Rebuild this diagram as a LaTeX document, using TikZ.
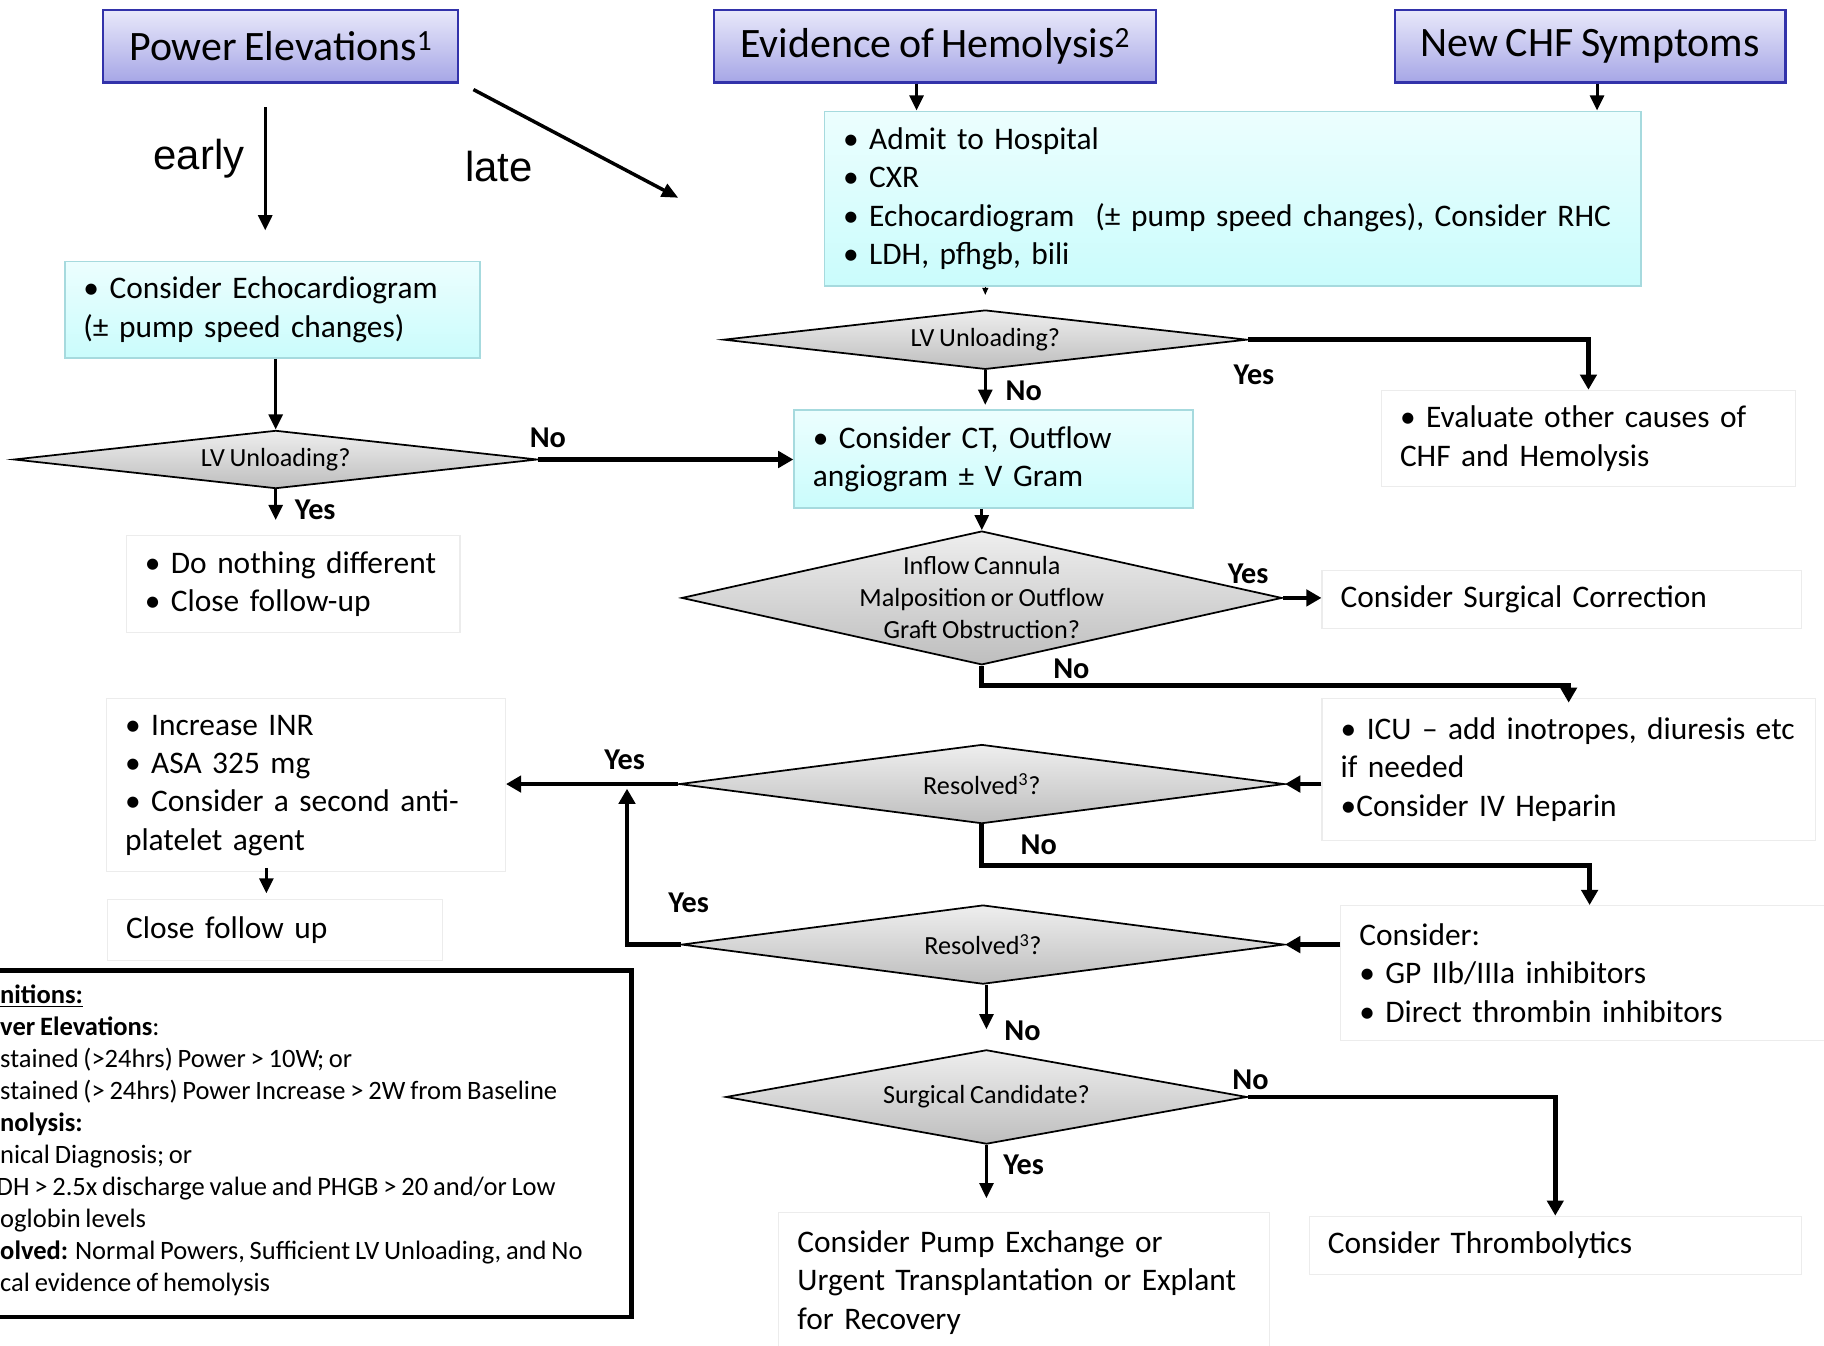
\documentclass[tikz,border=0pt]{standalone}
\usepackage{fontspec}
\setmainfont{Carlito}[WordSpace=0.8]
\newfontfamily\arialf{Liberation Sans}
\usetikzlibrary{shapes.geometric,arrows.meta,calc}
\definecolor{hdrT}{RGB}{232,232,250}
\definecolor{hdrBot}{RGB}{166,166,230}
\definecolor{hdrB}{RGB}{50,50,170}
\definecolor{cyT}{RGB}{236,254,254}
\definecolor{cyB}{RGB}{202,252,252}
\definecolor{cyD}{RGB}{166,218,222}
\definecolor{wbD}{RGB}{236,236,236}
\definecolor{diT}{RGB}{238,238,238}
\definecolor{diB}{RGB}{190,190,190}
\begin{document}
\begin{tikzpicture}[x=1pt,y=-1pt,
  hdr/.style={draw=hdrB, line width=1.8pt, top color=hdrT, bottom color=hdrBot,
    minimum height=62pt, inner sep=0pt, anchor=north west,
    font=\fontsize{36}{40}\selectfont},
  bx/.style={anchor=north west, inner xsep=16pt, inner ysep=0pt, align=left,
    font=\fontsize{27}{33}\selectfont},
  cy/.style={bx, draw=cyD, line width=1.5pt, top color=cyT, bottom color=cyB},
  wb/.style={bx, draw=wbD, line width=1pt, fill=white},
  dia/.style={diamond, draw=black, line width=1.5pt, top color=diT, bottom color=diB,
    inner sep=0pt},
  dtext/.style={font=\fontsize{22.5}{27.5}\selectfont, align=center},
  yn/.style={font=\bfseries\fontsize{26}{30}\selectfont, inner sep=0pt},
  thk/.style={line width=4pt, -{Triangle[length=13pt,width=14pt]}},
  thn/.style={line width=2.5pt, -{Triangle[length=13pt,width=12pt]}},
  df/.style={anchor=base west, inner sep=0pt, font=\fontsize{22.8}{27}\selectfont}
]
\useasboundingbox (0,0) rectangle (1568,1157);
\fill[white] (0,0) rectangle (1568,1157);

% header boxes
\node[hdr, minimum width=305pt] (pe) at (88,8) {Power Elevations\textsuperscript{1}};
\node[hdr, minimum width=380pt] (eh) at (613,8) {Evidence of Hemolysis\textsuperscript{2}};
\node[hdr, minimum width=336pt] (chf) at (1198,8) {New CHF Symptoms};

% early / late
\coordinate (ea1) at (228,92);
\coordinate (ea2) at (228,198);
\coordinate (la1) at (407,77);
\coordinate (la2) at (583,170);
\draw[thn] (ea1) -- (ea2);
\draw[line width=3pt, -{Triangle[length=14pt,width=12pt]}] (la1) -- (la2);
\node[font=\arialf\fontsize{36}{40}\selectfont, inner sep=0pt] (early) at (171,136) {early};
\node[font=\arialf\fontsize{36}{40}\selectfont, inner sep=0pt] (late) at (429,143) {late};

% boxes
\node[cy, minimum width=702pt, minimum height=150pt, text width=670pt] (adm) at (708,95)
  {• Admit to Hospital\\ • CXR\\ • Echocardiogram\ \ (± pump speed changes), Consider RHC\\ • LDH, pfhgb, bili};
\node[cy, minimum width=357pt, minimum height=83pt, text width=325pt] (echo) at (55,224)
  {• Consider Echocardiogram\\(± pump speed changes)};
\node[cy, minimum width=343pt, minimum height=84pt, text width=311pt] (ct) at (682,352)
  {• Consider CT, Outflow\\angiogram ± V Gram};
\node[wb, minimum width=356pt, minimum height=83pt, text width=324pt] (eval) at (1187,335)
  {• Evaluate other causes of\\CHF and Hemolysis};
\node[wb, minimum width=287pt, minimum height=83pt, text width=255pt] (nothing) at (108,460)
  {• Do nothing different\\ • Close follow-up};
\node[wb, minimum width=412pt, minimum height=50pt, text width=380pt] (surg) at (1136,490)
  {Consider Surgical Correction};
\node[wb, minimum width=422pt, minimum height=122pt, text width=392pt] (icu) at (1136,600)
  {• ICU – add inotropes, diuresis etc\\if needed\\•Consider IV Heparin};
\node[wb, minimum width=343pt, minimum height=149pt, text width=311pt] (inr) at (91,600)
  {• Increase INR\\ • ASA 325 mg\\ • Consider a second anti-\\platelet agent};
\node[wb, minimum width=288pt, minimum height=52pt, text width=256pt] (cfu) at (92,773)
  {Close follow up};
\node[wb, minimum width=420pt, minimum height=116pt, text width=388pt] (cons) at (1152,778)
  {Consider:\\ • GP IIb/IIIa inhibitors\\ • Direct thrombin inhibitors};
\node[wb, minimum width=422pt, minimum height=120pt, text width=390pt] (pump) at (669,1042)
  {Consider Pump Exchange or\\Urgent Transplantation or Explant\\for Recovery};
\node[wb, minimum width=423pt, minimum height=50pt, text width=391pt] (thr) at (1125,1045)
  {Consider Thrombolytics};

% diamonds
\node[dia, minimum width=450pt, minimum height=50pt] (d1) at (237,395) {};
\node[dtext] (d1t) at (d1.center) {LV Unloading?};
\node[dia, minimum width=450pt, minimum height=51pt] (d2) at (847,292) {};
\node[dtext] (d2t) at (d2.center) {LV Unloading?};
\node[dia, minimum width=516pt, minimum height=115pt] (d3) at (844,514) {};
\node[dtext] (d3t) at (d3.center) {Inflow Cannula\\Malposition or Outflow\\Graft Obstruction?};
\node[dia, minimum width=520pt, minimum height=68pt] (r1) at (844,674) {};
\node[dtext] (r1t) at (r1.center) {Resolved\textsuperscript{3}?};
\node[dia, minimum width=518pt, minimum height=68pt] (r2) at (845,812) {};
\node[dtext] (r2t) at (r2.center) {Resolved\textsuperscript{3}?};
\node[dia, minimum width=448pt, minimum height=81pt] (sc) at (848,943) {};
\node[dtext] (sct) at (sc.center) {Surgical Candidate?};

% connectors
\draw[thn] ([xshift=-16pt]eh.south) -- ([xshift=-16pt]eh.south |- adm.north);
\draw[thn] ([xshift=6pt]chf.south) -- ([xshift=6pt]chf.south |- adm.north);
\draw[line width=1.2pt, -{Triangle[length=6pt,width=5pt]}] (d2.north |- adm.south) -- ++(0,7);
\draw[thk] (d2.east) -| (eval.north);
\draw[thn, shorten >=4pt] (d2.south) -- (d2.south |- ct.north);
\draw[thn] (d1.north |- echo.south) -- (d1.north);
\draw[thk] (d1.east) -- (d1.east -| ct.west);
\draw[thn, shorten >=13pt] (d1.south) -- (d1.south |- nothing.north);
\draw[thn] (d3.north |- ct.south) -- (d3.north);
\draw[thk] (d3.east) -- (d3.east -| surg.west);
\draw[thk] (d3.south) -- ++(0,17) -| ([yshift=-4pt]icu.north);
\draw[thk] (r1.east -| icu.west) -- (r1.east);
\draw[thk] (r1.west) -- (r1.west -| inr.east);
\draw[thk] (r1.south) -- ++(0,35) -| ([xshift=4pt]cons.north);
\draw[thk] (r2.east -| cons.west) -- (r2.east);
\coordinate (yj) at (539,678);
\draw[thk] (r2.west) -| (yj);
\draw[thn, shorten >=17pt] (sc.north |- r2.south) -- (sc.north);
\draw[thk] (sc.east) -| (thr.north);
\draw[thn, shorten >=12pt] (sc.south) -- (sc.south |- pump.north);
\draw[thn, shorten <=-4pt, shorten >=5pt] ([xshift=-34pt]inr.south) -- ([xshift=-34pt]inr.south |- cfu.north);

% yes / no labels
\node[yn] (l1) at (471,376) {No};
\node[yn] (l2) at (271,438) {Yes};
\node[yn] (l3) at (880,336) {No};
\node[yn] (l4) at (1078,322) {Yes};
\node[yn] (l5) at (1073,493) {Yes};
\node[yn] (l6) at (921,575) {No};
\node[yn] (l7) at (537,653) {Yes};
\node[yn] (l8) at (893,726) {No};
\node[yn] (l9) at (592,776) {Yes};
\node[yn] (l10) at (879,886) {No};
\node[yn] (l11) at (1075,928) {No};
\node[yn] (l12) at (880,1001) {Yes};

% definitions
\node[draw=black, line width=4pt, anchor=north east, minimum width=575pt, minimum height=298pt, inner sep=0pt] (defs) at (545,832) {};
\node[df] (df1) at (0,863) {\textbf{\underline{nitions:}}};
\node[df] (df2) at (0,890) {\textbf{ver Elevations}:};
\node[df] (df3) at (0,918) {stained (>24hrs) Power > 10W; or};
\node[df] (df4) at (0,945) {stained (> 24hrs) Power Increase > 2W from Baseline};
\node[df] (df5) at (0,973) {\textbf{nolysis:}};
\node[df] (df6) at (0,1000) {nical Diagnosis; or};
\node[df] (df7) at (-3,1028) {DH > 2.5x discharge value and PHGB > 20 and/or Low};
\node[df] (df8) at (0,1055) {oglobin levels};
\node[df] (df9) at (0,1083) {\textbf{olved:} Normal Powers, Sufficient LV Unloading, and No};
\node[df] (df10) at (0,1110) {cal evidence of hemolysis};
\end{tikzpicture}
\end{document}
